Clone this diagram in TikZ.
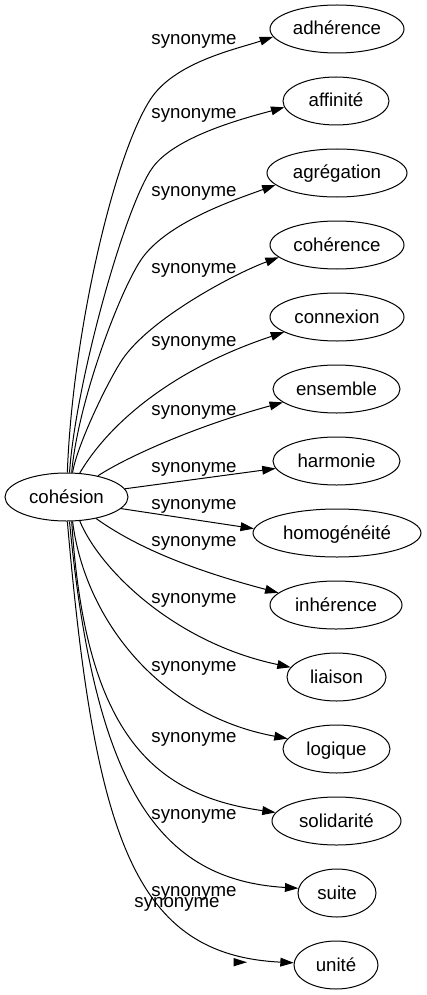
\documentclass[tikz,border=0pt]{standalone}
\usepackage{fontspec}
\setmainfont{Liberation Sans}
\usetikzlibrary{arrows.meta,shapes.geometric}
\begin{document}
\begin{tikzpicture}[x=0.75pt,y=-0.75pt,
  word/.style={ellipse,draw,line width=0.75pt,inner sep=0pt,minimum height=36pt,
    text height=10pt,text depth=1pt,font=\fontsize{14pt}{16pt}\selectfont},
  rel/.style={inner sep=0pt,anchor=base,font=\fontsize{14pt}{16pt}\selectfont},
  link/.style={line width=0.75pt,-{Triangle[length=10pt,width=6.6pt]}}]
\useasboundingbox (0,0) rectangle (426,995);
% nodes
\node[word,minimum width=92.25pt] (cohesion) at (66.5,497) {cohésion};
\node[word,minimum width=100.5pt] (adherence) at (337,29) {adhérence};
\node[word,minimum width=79.5pt] (affinite) at (336,101) {affinité};
\node[word,minimum width=105pt] (agregation) at (337,173) {agrégation};
\node[word,minimum width=100.5pt] (coherence) at (337,245) {cohérence};
\node[word,minimum width=100.5pt] (connexion) at (337,317) {connexion};
\node[word,minimum width=95.25pt] (ensemble) at (336.5,389) {ensemble};
\node[word,minimum width=95.25pt] (harmonie) at (336.5,461) {harmonie};
\node[word,minimum width=126pt] (homogeneite) at (337,533) {homogénéité};
\node[word,minimum width=99pt] (inherence) at (336,605) {inhérence};
\node[word,minimum width=74.25pt] (liaison) at (336.5,677) {liaison};
\node[word,minimum width=80.25pt] (logique) at (336.5,749) {logique};
\node[word,minimum width=96.75pt] (solidarite) at (336.5,821) {solidarité};
\node[word,minimum width=58.5pt] (suite) at (337,893) {suite};
\node[word,minimum width=63pt] (unite) at (336,965) {unité};
% labels
\node[rel] (l1) at (194,45) {synonyme};
\node[rel] (l2) at (194,119) {synonyme};
\node[rel] (l3) at (194,196) {synonyme};
\node[rel] (l4) at (194,273) {synonyme};
\node[rel] (l5) at (194,346) {synonyme};
\node[rel] (l6) at (194,415) {synonyme};
\node[rel] (l7) at (194,472) {synonyme};
\node[rel] (l8) at (194,509) {synonyme};
\node[rel] (l9) at (194,546) {synonyme};
\node[rel] (l10) at (194,603) {synonyme};
\node[rel] (l11) at (194,671) {synonyme};
\node[rel] (l12) at (194,742) {synonyme};
\node[rel] (l13) at (194,819) {synonyme};
\node[rel] (l14) at (194,896) {synonyme};
\node[rel] (l15) at (177,907) {synonyme};
% edges
\draw[link] (cohesion.88) .. controls (72,340) and (112,160) .. (150,100)
  .. controls (174,62) and (237,49) .. (adherence.187);
\draw[link] (cohesion.83) .. controls (76,380) and (126,203) .. (153,167)
  .. controls (177,135) and (249,117) .. (affinite.187);
\draw[link] (cohesion.78) .. controls (78,400) and (122,285) .. (143,257)
  .. controls (170,221) and (237,199) .. (agregation.191);
\draw[link] (cohesion.76) .. controls (77,445) and (108,381) .. (122,360)
  .. controls (150,318) and (236,273) .. (coherence.192);
\draw[link] (cohesion.61) .. controls (108,425) and (170,370) .. (connexion.196);
\draw[link] (cohesion.34) .. controls (130,455) and (200,425) .. (ensemble.194);
\draw[link] (cohesion.8) -- (harmonie.187);
\draw[link] (cohesion.348) -- (homogeneite.177);
\draw[link] (cohesion.324) .. controls (140,550) and (200,572) .. (inherence.168);
\draw[link] (cohesion.299) .. controls (100,570) and (175,643) .. (liaison.168);
\draw[link] (cohesion.284) .. controls (85,620) and (160,715) .. (logique.168);
\draw[link] (cohesion.282) .. controls (85,730) and (150,795) .. (solidarite.172);
\draw[link] (cohesion.277) .. controls (95,790) and (160,880) .. (suite.173);
\draw[link] (cohesion.272) .. controls (95,840) and (135,955) .. (unite.177);
% stray arrowhead
\fill (233.5,958) -- (247,962.2) -- (233.5,966.4) -- cycle;
\end{tikzpicture}
\end{document}
